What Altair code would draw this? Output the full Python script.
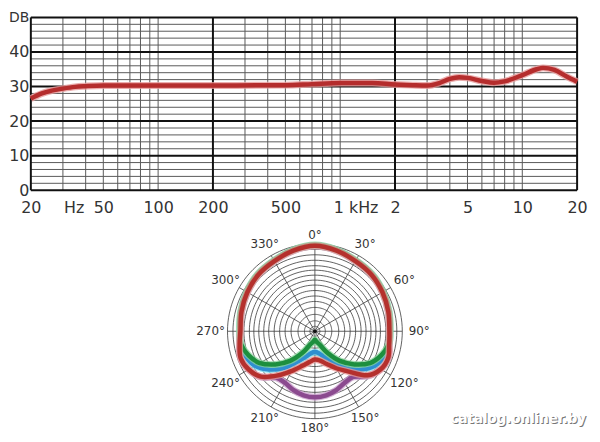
import altair as alt
import pandas as pd

# ---------------- frequency response data ----------------
freq_hz = [20, 23, 26, 30, 35, 40, 50, 70, 100, 200, 500, 700, 1000, 1500, 2000,
           2500, 3000, 3500, 4000, 4500, 5000, 6000, 7000, 8000, 10000, 12000,
           13000, 15000, 17500, 20000]
level_db = [26.5, 28.0, 28.8, 29.4, 29.9, 30.1, 30.3, 30.3, 30.3, 30.3, 30.4, 30.7,
            31.0, 31.0, 30.6, 30.4, 30.3, 31.0, 32.2, 32.7, 32.5, 31.6, 31.1, 31.5,
            33.3, 35.0, 35.4, 34.8, 32.9, 31.4]

x_tick_values = [20, 34.4, 50, 100, 200, 500, 1215, 2000, 5000, 10000, 20000]
x_tick_labels = ["20", "Hz", "50", "100", "200", "500", "1 kHz", "2", "5", "10", "20"]
y_tick_values = [0, 10, 20, 30, 40, 50]
y_tick_labels = ["0", "10", "20", "30", "40", "DB"]

minor_freq = [30, 40, 50, 60, 70, 80, 90, 100, 300, 400, 500, 600, 700, 800, 900,
              1000, 3000, 4000, 5000, 6000, 7000, 8000, 9000, 10000]
major_freq = [20, 200, 2000, 20000]
minor_db = [2, 4, 6, 8, 12, 14, 16, 18, 22, 24, 26, 28, 32, 34, 36, 38, 42, 44, 46, 48]
major_db = [0, 10, 20, 30, 40, 50]

# ---------------- polar pattern data ----------------
polar_angles = [0, 15, 30, 45, 60, 75, 90, 100, 110, 120, 130, 140, 150, 160, 170,
                180, 190, 200, 210, 220, 230, 240, 250, 260, 270, 285, 300, 315, 330, 345]
r_red = [86, 84, 81.5, 80.5, 78.5, 76.5, 75, 76, 78.5, 76.5, 69, 53, 43, 35, 30,
         28.5, 31.5, 37, 46, 58, 71, 77, 79.5, 77, 75, 76.5, 78.5, 80.5, 81.5, 84]
r_green = [86.8, 84.8, 82.3, 81.3, 79.3, 77.3, 75.8, 75.5, 71, 64, 52, 39, 25, 14.5, 11,
           8.5, 11, 14.5, 25, 39, 52, 64, 71, 75.5, 75.8, 77.3, 79.3, 81.3, 82.3, 84.8]
r_blue = [86.4, 84.4, 81.9, 80.9, 78.9, 76.9, 75.4, 76, 74, 69.5, 60, 48, 35.5, 27.5, 22.5,
          21, 22.5, 27.5, 35.5, 48, 60, 69.5, 74, 76, 75.4, 76.9, 78.9, 80.9, 81.9, 84.4]
r_purple = [86, 84, 81.5, 80.5, 78.5, 76.5, 75, 76, 78.5, 76.5, 70, 60, 60, 63, 65.5,
            66.5, 65.5, 63, 60, 61, 71.5, 77, 79.5, 77, 75, 76.5, 78.5, 80.5, 81.5, 84]

ring_radii = [5, 10.5, 17, 24, 30, 35.5, 41, 46.5, 51.5, 56.5, 61.5, 66, 71.5, 77, 82.5, 88]
spoke_angles = [0, 30, 60, 90, 120, 150, 180, 210, 240, 270, 300, 330]
outer_radius = 88
watermark = "catalog.onliner.by"

FONT = "DejaVu Sans"
TXT = "#333333"

# ---------------- top chart ----------------
W1, H1 = 550, 174
xs = alt.Scale(type="log", domain=[20, 20000], nice=False)
ys = alt.Scale(domain=[0, 50], nice=False)

vals_js = "[" + ",".join(str(v) for v in x_tick_values) + "]"
labs_js = "[" + ",".join("'%s'" % l for l in x_tick_labels) + "]"
yvals_js = "[" + ",".join(str(v) for v in y_tick_values) + "]"
ylabs_js = "[" + ",".join("'%s'" % l for l in y_tick_labels) + "]"

x_axis = alt.Axis(values=x_tick_values, labelExpr=f"{labs_js}[indexof({vals_js}, datum.value)]",
                  labelFlush=False, labelOverlap=False, grid=False, ticks=False, domain=False,
                  labelFont=FONT, labelFontSize=16, labelColor=TXT, labelPadding=9, title=None)
y_axis = alt.Axis(values=y_tick_values, labelExpr=f"{ylabs_js}[indexof({yvals_js}, datum.value)]",
                  labelOverlap=False, grid=False, ticks=False, domain=False,
                  labelFont=FONT,
                  labelFontSize={"condition": {"test": "datum.value == 50", "value": 14}, "value": 16},
                  labelColor=TXT, labelPadding=2, title=None)

X = lambda: alt.X("f:Q", scale=xs, axis=x_axis)
Y = lambda: alt.Y("db:Q", scale=ys, axis=y_axis)

minor_v = alt.Chart(pd.DataFrame({"f": minor_freq})).mark_rule(color="#5a5a5a", strokeWidth=1).encode(x=X())
minor_h = alt.Chart(pd.DataFrame({"db": minor_db})).mark_rule(color="#5a5a5a", strokeWidth=1).encode(y=Y())
major_v = alt.Chart(pd.DataFrame({"f": major_freq})).mark_rule(color="#111111", strokeWidth=2).encode(x=X())
major_h = alt.Chart(pd.DataFrame({"db": major_db})).mark_rule(color="#111111", strokeWidth=2).encode(y=Y())

curve_df = pd.DataFrame({"f": freq_hz, "db": level_db})
curve_halo = alt.Chart(curve_df).mark_line(color="#e79a9a", strokeWidth=7, opacity=0.8,
                                           interpolate="monotone").encode(x=X(), y=Y())
curve = alt.Chart(curve_df).mark_line(color="#b52d2d", strokeWidth=4.5,
                                      interpolate="monotone").encode(x=X(), y=Y())

top = alt.layer(minor_v, minor_h, major_v, major_h, curve_halo, curve).properties(width=W1, height=H1)

# ---------------- polar chart ----------------
W2, H2 = 560, 214
XMIN, XMAX = -286, 274
YMIN, YMAX = -103, 111
px_x = alt.Scale(domain=[XMIN, XMAX], nice=False, zero=False)
px_y = alt.Scale(domain=[YMIN, YMAX], nice=False, zero=False)
PX = lambda f="x": alt.X(f"{f}:Q", scale=px_x, axis=None)
PY = lambda f="y": alt.Y(f"{f}:Q", scale=px_y, axis=None)

ring_rows = []
for i, r in enumerate(ring_radii):
    for a in range(0, 361, 3):
        ring_rows.append({"ring": i, "r": r, "a": a})
rings = alt.Chart(pd.DataFrame(ring_rows)).transform_calculate(
    x="datum.r*sin(datum.a*PI/180)", y="datum.r*cos(datum.a*PI/180)"
).mark_line(color="#3a3a3a", strokeWidth=0.8).encode(
    x=PX(), y=PY(), detail="ring:N", order="a:Q")

spokes = alt.Chart(pd.DataFrame({"a": spoke_angles})).transform_calculate(
    x0="0", y0="0",
    x1=f"{outer_radius}*sin(datum.a*PI/180)", y1=f"{outer_radius}*cos(datum.a*PI/180)"
).mark_rule(color="#3a3a3a", strokeWidth=0.8).encode(
    x=PX("x0"), y=PY("y0"), x2="x1:Q", y2="y1:Q")

center_dot = alt.Chart(pd.DataFrame({"a": [0]})).transform_calculate(
    x="0", y="0").mark_circle(color="#111111", size=14, opacity=1).encode(x=PX(), y=PY())

series = [("purple", r_purple, "#8b4a8f", "#c59ac8"),
          ("blue", r_blue, "#2f8fd0", "#7fe2f2"),
          ("green", r_green, "#1d8f3e", "#86d39a"),
          ("red", r_red, "#b5302d", "#ea9a98")]
curve_layers = []
for name, rv, col, halo in series:
    df = pd.DataFrame({"a": polar_angles, "r": rv})
    base = alt.Chart(df).transform_calculate(
        x="datum.r*sin(datum.a*PI/180)", y="datum.r*cos(datum.a*PI/180)")
    curve_layers.append(base.mark_line(color=halo, strokeWidth=7, opacity=0.75,
                                       interpolate="cardinal-closed").encode(x=PX(), y=PY(), order="a:Q"))
    curve_layers.append(base.mark_line(color=col, strokeWidth=4.5,
                                       interpolate="cardinal-closed").encode(x=PX(), y=PY(), order="a:Q"))

labels = alt.Chart(pd.DataFrame({"a": spoke_angles})).transform_calculate(
    rl="97 + 8*abs(sin(datum.a*PI/180))",
    x="datum.rl*sin(datum.a*PI/180)", y="datum.rl*cos(datum.a*PI/180)",
    t="toString(datum.a) + '°'"
).mark_text(font=FONT, fontSize=12, color=TXT, align="center", baseline="middle").encode(
    x=PX(), y=PY(), text="t:N")

wm_df = pd.DataFrame({"t": [watermark]})
wm_base = alt.Chart(wm_df).transform_calculate(x=f"{XMAX}", y="-88")
wm_shadow = wm_base.mark_text(font=FONT, fontSize=13.5, fontWeight="bold", color="#555555",
                              opacity=0.8, dx=0, dy=1, align="right").encode(x=PX(), y=PY(), text="t:N")
wm = wm_base.mark_text(font=FONT, fontSize=13.5, fontWeight="bold", color="#ffffff",
                       dx=-1, align="right").encode(x=PX(), y=PY(), text="t:N")

polar = alt.layer(rings, spokes, center_dot, *curve_layers, labels, wm_shadow, wm).properties(
    width=W2, height=H2)

chart = alt.vconcat(top, polar, spacing=4).properties(padding=0).configure_view(
    stroke="transparent")

chart.save("out.html", embed_options={"renderer": "svg", "actions": False})
